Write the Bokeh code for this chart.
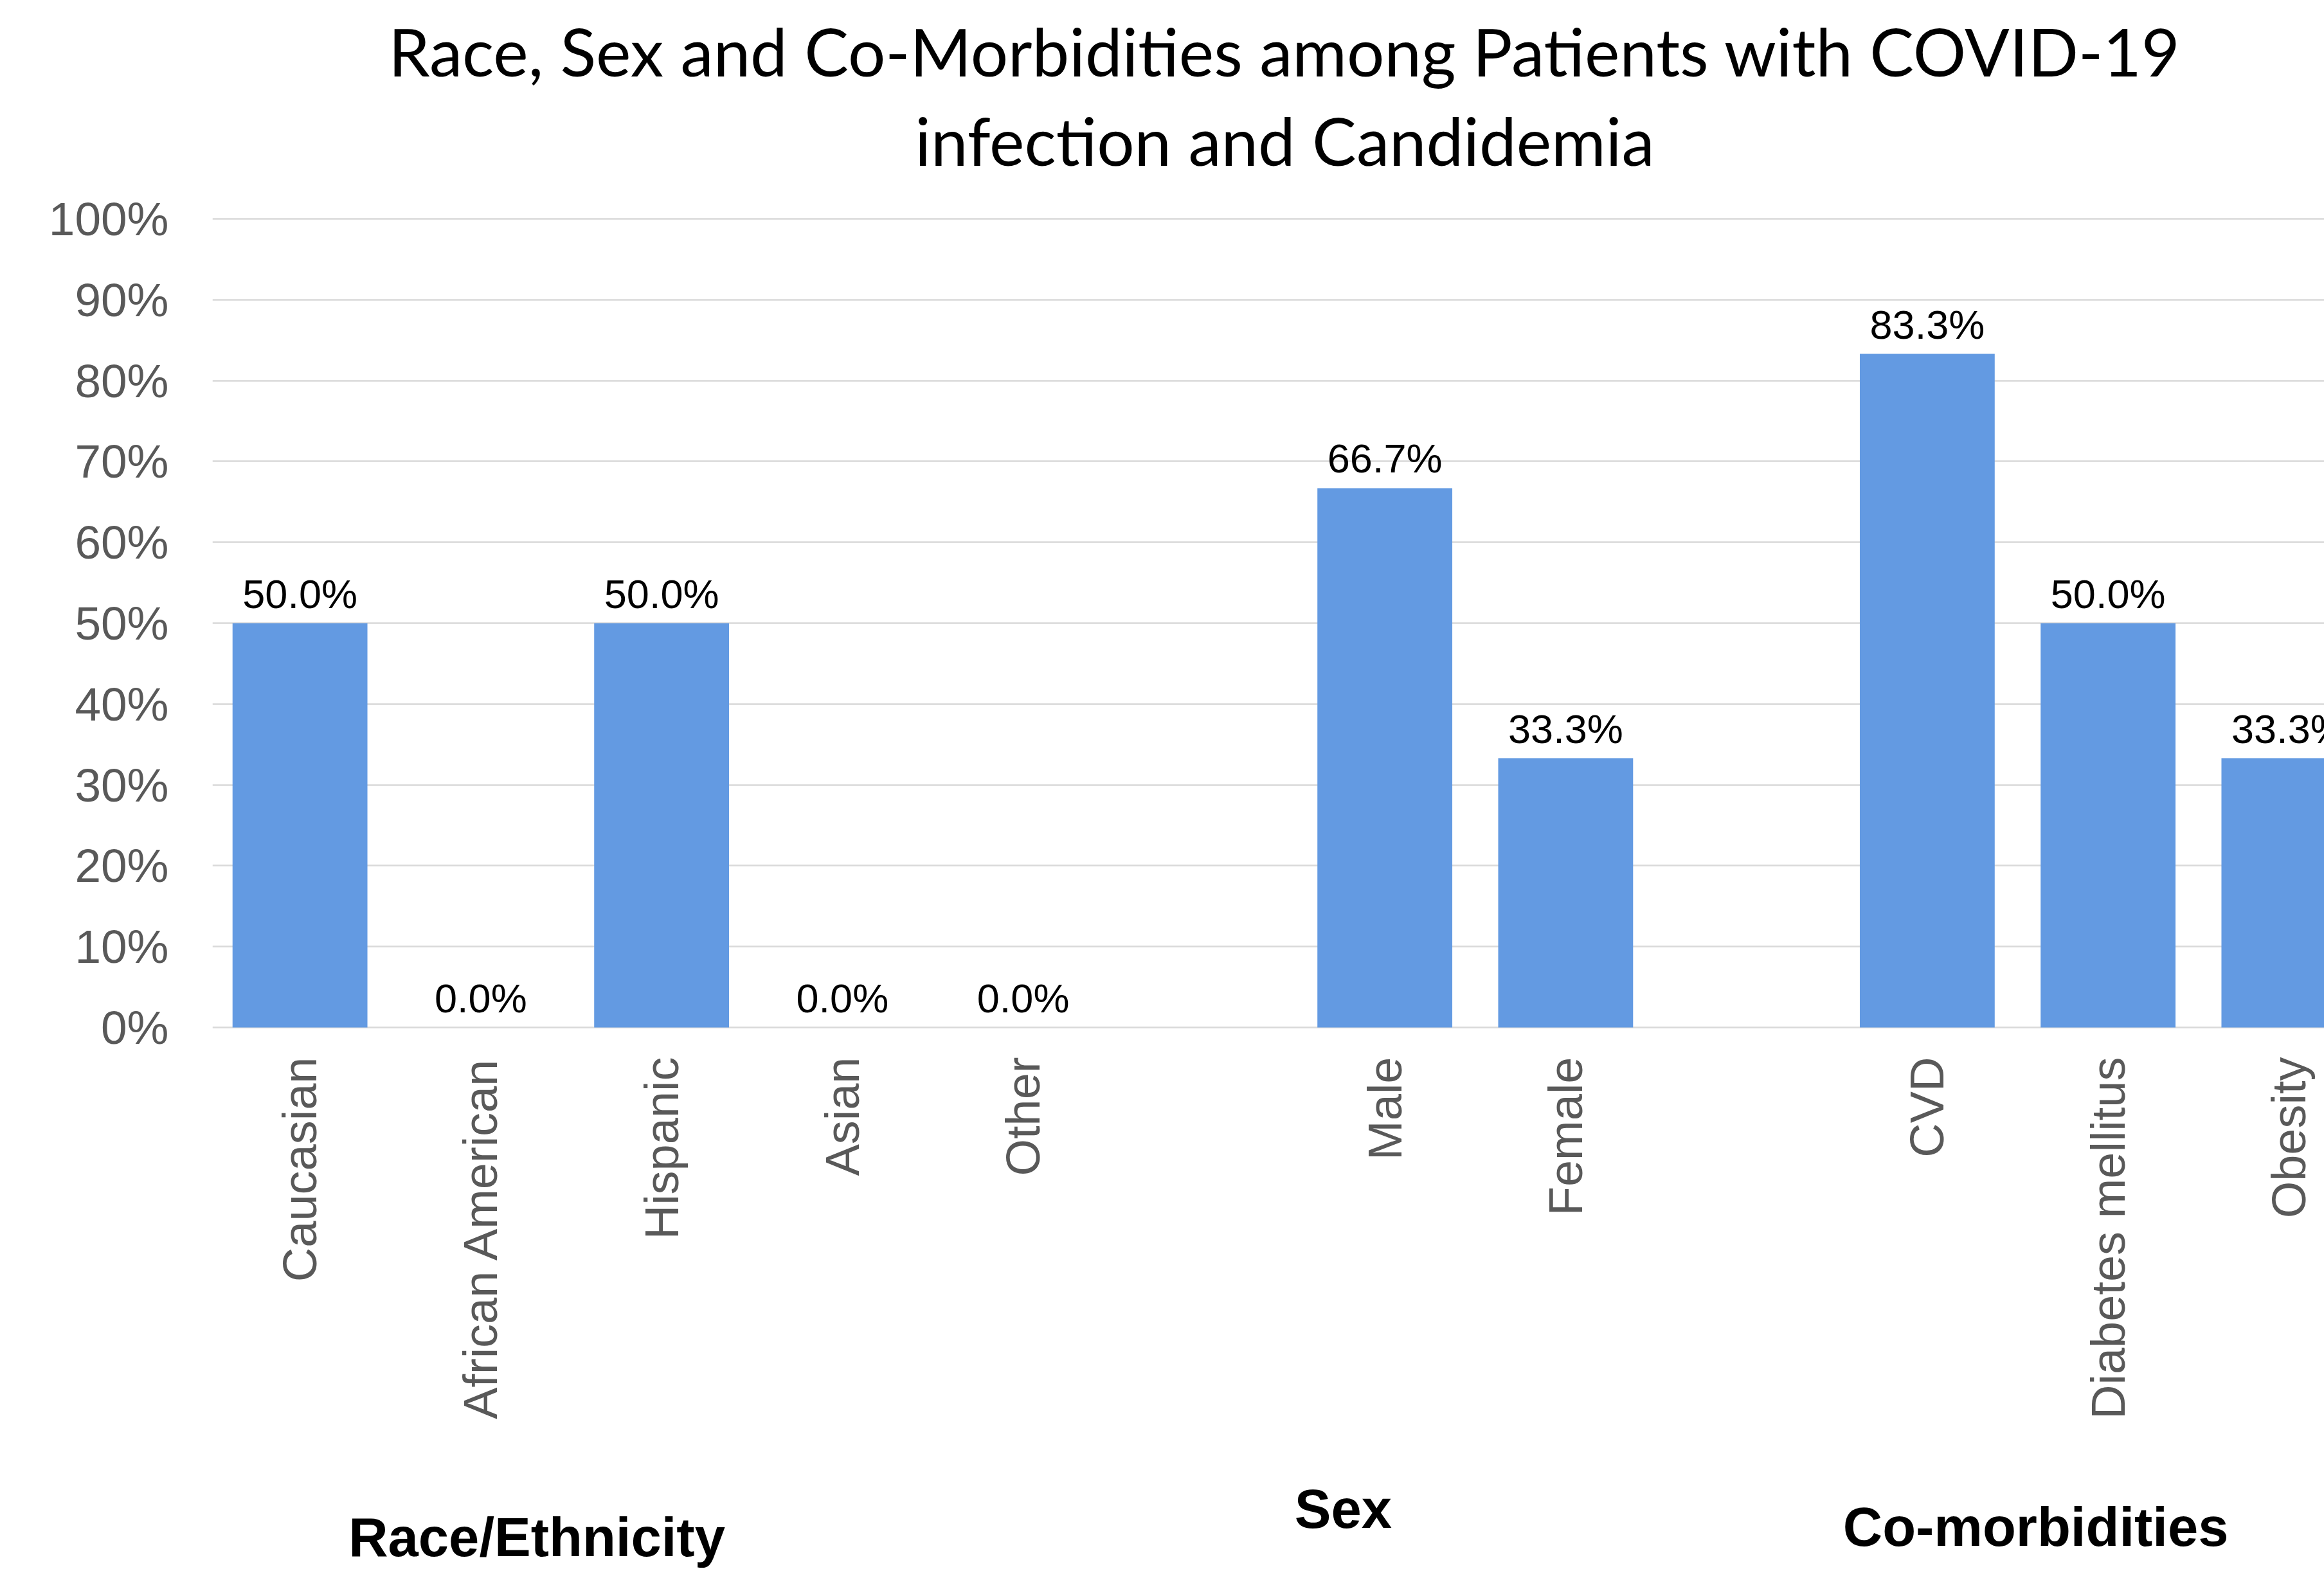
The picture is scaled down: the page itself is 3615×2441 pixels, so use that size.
import math
from bokeh.plotting import figure
from bokeh.models import Range1d, FixedTicker, PrintfTickFormatter, ColumnDataSource
from bokeh.core.properties import value
from bokeh.embed import file_html
from bokeh.resources import INLINE

# ---- data ----
race_labels = ["Caucasian", "African American", "Hispanic", "Asian", "Other"]
race_values = [50.0, 0.0, 50.0, 0.0, 0.0]
sex_labels = ["Male", "Female"]
sex_values = [66.7, 33.3]
comorb_labels = ["CVD", "Diabetes mellitus", "Obesity"]
comorb_values = [83.3, 50.0, 33.3]
group_names = ["Race/Ethnicity", "Sex", "Co-morbidities"]
y_ticks = [0, 10, 20, 30, 40, 50, 60, 70, 80, 90, 100]
title_lines = ["Race, Sex and Co-Morbidities among Patients with COVID-19",
               "infection and Candidemia"]

# ---- positions: one blank slot between groups ----
groups = [(race_labels, race_values), (sex_labels, sex_values), (comorb_labels, comorb_values)]
xs, names, vals = [], [], []
slot = 0
for labs, vs in groups:
    for lab, v in zip(labs, vs):
        xs.append(slot + 0.5)
        names.append(lab)
        vals.append(v)
        slot += 1
    slot += 1

W, H = 3615, 2441
FRAME_LEFT = 330
ZERO_Y, TOP_Y = 1598, 340           # canvas pixel rows of 0% and 100%
PPU = (ZERO_Y - TOP_Y) / 100.0      # pixels per percent unit
y_top = 100 + TOP_Y / PPU
y_bot = -(H - ZERO_Y) / PPU

p = figure(width=W, height=H, output_backend="svg", toolbar_location=None,
           x_range=Range1d(0.016, 11.696), y_range=Range1d(y_bot, y_top),
           x_axis_location=None,
           min_border_left=FRAME_LEFT, min_border_right=0, min_border_top=0,
           min_border_bottom=0)
p.outline_line_color = None
p.background_fill_color = "white"
p.border_fill_color = "white"

def px(d):
    return d / PPU

src = ColumnDataSource(dict(x=xs, top=vals, name=names,
                            lab=[f"{v:.1f}%" for v in vals],
                            ly=[v + px(46) for v in vals]))
p.vbar(x="x", top="top", width=0.746, bottom=0, source=src,
       fill_color="#639ae2", line_color=None)
# data labels
p.text(x="x", y="ly", text="lab", source=src, text_align="center",
       text_baseline="middle",
       text_font=value("Liberation Sans"), text_font_size="63px", text_color="black")

# grid
p.xgrid.grid_line_color = None
p.ygrid.ticker = FixedTicker(ticks=y_ticks)
p.ygrid.grid_line_color = "#d9d9d9"
p.ygrid.grid_line_width = 2.5

# y axis
p.yaxis.ticker = FixedTicker(ticks=y_ticks)
p.yaxis.formatter = PrintfTickFormatter(format="%d%%")
p.yaxis.axis_line_color = None
p.yaxis.major_tick_line_color = None
p.yaxis.minor_tick_line_color = None
p.yaxis.major_label_standoff = 62
p.yaxis.major_label_text_font = "Liberation Sans"
p.yaxis.major_label_text_font_size = "73px"
p.yaxis.major_label_text_color = "#595959"

# category labels (vertical, reading upward, top end near the baseline)
p.text(x="x", y=px(-46), text="name", source=src, angle=math.pi / 2,
       text_align="right", text_baseline="middle",
       text_font=value("Liberation Sans"), text_font_size="74px", text_color="#595959")

# group labels
group_x = [1.81, 6.27, 10.10]
group_y = [px(-(2391 - ZERO_Y)), px(-(2347 - ZERO_Y)), px(-(2375 - ZERO_Y))]
p.text(x=group_x, y=group_y, text=group_names, text_align="center", text_baseline="middle",
       text_font=value("Liberation Sans"), text_font_style="bold",
       text_font_size="85px", text_color="black")

# title
title_x = (1998 - FRAME_LEFT) / ((W - FRAME_LEFT) / 11.68) + 0.016
title_y = [100 + px(TOP_Y - 78), 100 + px(TOP_Y - 217)]
p.text(x=[title_x, title_x], y=title_y, text=title_lines, text_align="center",
       text_baseline="middle", text_font=value("Lato"), text_font_size="103px",
       text_color="black")

open("out.html", "w").write(file_html(p, INLINE))
